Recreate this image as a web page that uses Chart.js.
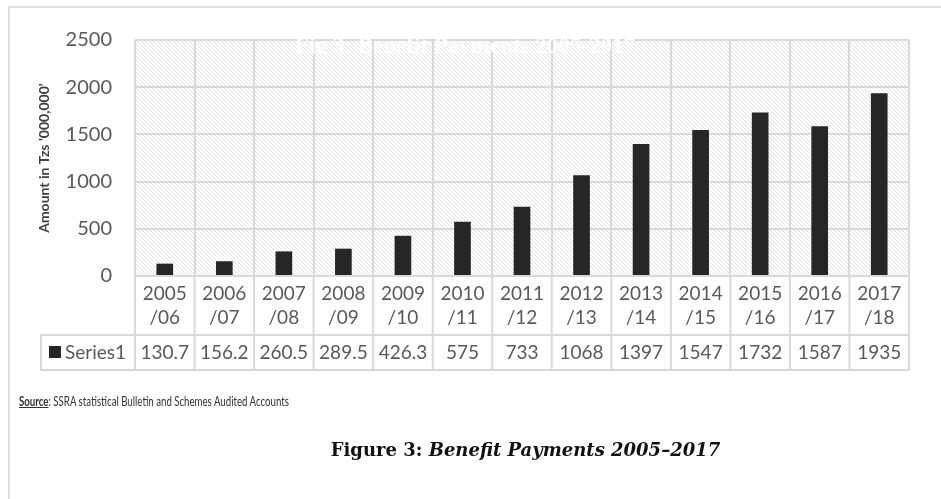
<!DOCTYPE html>
<html>
<head>
<meta charset="utf-8">
<script src="https://cdn.jsdelivr.net/npm/chart.js@4.4.0/dist/chart.umd.min.js"></script>
<style>
    html, body { margin: 0; padding: 0; background: #fff; }
    #wrap { position: relative; width: 941px; height: 499px; overflow: hidden; }
    #frame { position: absolute; left: 8px; top: 6px; width: 960px; height: 520px;
             border-top: 2px solid #e0e0e0; border-left: 2px solid #e0e0e0; }
    canvas { position: absolute; left: 0; top: 0; }
    #ghost { position: absolute; left: 135px; width: 660px; top: 33px; text-align: center;
             font: bold 23px "Liberation Serif", serif; color: #fff; }
    #source { position: absolute; left: 19px; top: 392px; color: #333; white-space: nowrap;
              font: 14px Lato, sans-serif; transform: scaleX(0.69); transform-origin: 0 0; }
    #source b { text-decoration: underline; }
    #caption { position: absolute; left: 110px; width: 831px; top: 439px; text-align: center;
               font: bold 18px "DejaVu Serif", serif; color: #111; }
</style>
</head>
<body>
<div id="wrap">
    <div id="frame"></div>
    <canvas id="chart" width="941" height="499"></canvas>
    <div id="ghost">Fig 3: Benefit Payments 2005-2017</div>
    <div id="source"><b>Source</b>: SSRA statistical Bulletin and Schemes Audited Accounts</div>
    <div id="caption">Figure 3: <i>Benefit Payments 2005–2017</i></div>
</div>
<script>
const yearStart = ['2005', '2006', '2007', '2008', '2009', '2010', '2011', '2012', '2013', '2014', '2015', '2016', '2017'];
const yearEnd = ['/06', '/07', '/08', '/09', '/10', '/11', '/12', '/13', '/14', '/15', '/16', '/17', '/18'];
const payments = [130.7, 156.2, 260.5, 289.5, 426.3, 575, 733, 1068, 1397, 1547, 1732, 1587, 1935];
const seriesName = 'Series1';
const yMax = 2500;
const yStep = 500;

const gridColor = '#d9d9d9';
const textColor = '#595959';
const barColor = '#262626';

// diagonal hatch used as the plot background
function makeHatch() {
    const c = document.createElement('canvas');
    c.width = 8;
    c.height = 8;
    const g = c.getContext('2d');
    g.strokeStyle = '#e2e2e2';
    g.lineWidth = 1;
    for (let k = -8; k <= 8; k += 4) {
        g.beginPath();
        g.moveTo(k, 0);
        g.lineTo(k + 8, 8);
        g.stroke();
    }
    return g.createPattern(c, 'repeat');
}

const hatchPlugin = {
    id: 'hatch',
    beforeDraw(chart) {
        const a = chart.chartArea;
        const ctx = chart.ctx;
        ctx.save();
        ctx.fillStyle = makeHatch();
        ctx.fillRect(a.left, a.top, a.right - a.left, a.bottom - a.top);
        ctx.restore();
    }
};

// data table under the plot, Excel style
const tablePlugin = {
    id: 'dataTable',
    afterDraw(chart) {
        const ctx = chart.ctx;
        const x = chart.scales.x;
        const a = chart.chartArea;
        const n = yearStart.length;
        const w = (a.right - a.left) / n;
        const rowTop = a.bottom;
        const rowMid = rowTop + 59;
        const rowBot = rowMid + 35;
        const legendLeft = 41;

        ctx.save();
        ctx.strokeStyle = gridColor;
        ctx.lineWidth = 2;
        for (let i = 0; i <= n; i++) {
            const bx = a.left + i * w;
            ctx.beginPath();
            ctx.moveTo(bx, rowTop);
            ctx.lineTo(bx, rowBot);
            ctx.stroke();
        }
        ctx.beginPath();
        ctx.moveTo(legendLeft, rowMid);
        ctx.lineTo(a.right, rowMid);
        ctx.moveTo(legendLeft, rowBot);
        ctx.lineTo(a.right, rowBot);
        ctx.moveTo(legendLeft, rowMid - 1);
        ctx.lineTo(legendLeft, rowBot + 1);
        ctx.stroke();

        ctx.fillStyle = textColor;
        ctx.font = '19px Lato, sans-serif';
        ctx.textAlign = 'center';
        ctx.textBaseline = 'middle';
        yearStart.forEach((lbl, i) => {
            const cx = x.getPixelForValue(i);
            ctx.fillText(lbl, cx, rowTop + 18);
            ctx.fillText(yearEnd[i], cx, rowTop + 42);
            ctx.fillText(String(payments[i]), cx, rowMid + 18);
        });

        // legend key
        ctx.fillStyle = barColor;
        ctx.fillRect(49, rowMid + 11, 12, 12);
        ctx.fillStyle = textColor;
        ctx.textAlign = 'left';
        ctx.fillText(seriesName, 65, rowMid + 18);
        ctx.restore();
    }
};

const chart = new Chart(document.getElementById('chart'), {
    type: 'bar',
    data: {
        labels: yearStart.map((s, i) => s + yearEnd[i]),
        datasets: [{
            label: seriesName,
            data: payments,
            backgroundColor: barColor,
            barPercentage: 0.28,
            categoryPercentage: 1.0
        }]
    },
    options: {
        responsive: false,
        animation: false,
        devicePixelRatio: 1,
        layout: {
            padding: {left: 36, top: 40, right: 32, bottom: 223}
        },
        plugins: {
            legend: {display: false},
            tooltip: {enabled: false}
        },
        scales: {
            x: {
                offset: true,
                grid: {color: gridColor, lineWidth: 2, drawTicks: false, offset: true},
                border: {display: false},
                ticks: {display: false},
                afterFit: (scale) => { scale.height = 0; }
            },
            y: {
                min: 0,
                max: yMax,
                grid: {color: gridColor, lineWidth: 2, drawTicks: false},
                border: {display: false},
                ticks: {
                    stepSize: yStep,
                    padding: 23,
                    color: textColor,
                    font: {family: 'Lato', size: 20},
                    callback: (v) => String(v)
                },
                title: {
                    display: true,
                    text: "Amount in Tzs '000,000'",
                    color: '#404040',
                    padding: 0,
                    font: {family: 'Lato', size: 14, weight: 'bold'}
                },
                afterFit: (scale) => { scale.width = 99; }
            }
        }
    },
    plugins: [hatchPlugin, tablePlugin]
});
</script>
</body>
</html>
